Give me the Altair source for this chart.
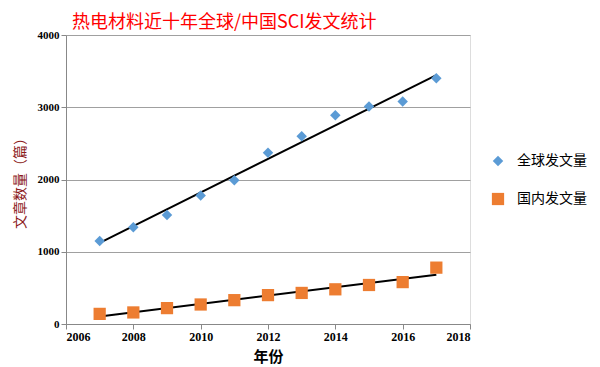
import altair as alt
import pandas as pd

years = [2007, 2008, 2009, 2010, 2011, 2012, 2013, 2014, 2015, 2016, 2017]
global_counts = [1150, 1340, 1510, 1780, 1990, 2370, 2600, 2890, 3010, 3080, 3400]
china_counts = [140, 160, 220, 270, 330, 400, 430, 480, 540, 580, 780]
series_names = ["全球发文量", "国内发文量"]
x_ticks = [2006, 2008, 2010, 2012, 2014, 2016, 2018]
y_ticks = [0, 500, 1000, 1500, 2000, 2500, 3000, 3500, 4000]

rows = []
for y, v in zip(years, global_counts):
    rows.append({"year": y, "value": v, "series": series_names[0]})
for y, v in zip(years, china_counts):
    rows.append({"year": y, "value": v, "series": series_names[1]})
df = pd.DataFrame(rows)

xenc = alt.X("year:Q", scale=alt.Scale(domain=[2006, 2018], nice=False),
             axis=alt.Axis(values=x_ticks, format="d", title="年份", grid=False,
                           labelFont="Liberation Serif", labelFontWeight="bold", labelFontSize=12,
                           labelColor="black", titleFont="Noto Sans CJK SC", titleFontSize=15,
                           titleFontWeight="bold", titleColor="black", titlePadding=7,
                           domainColor="#888888", tickColor="#888888", tickSize=5))
yenc = alt.Y("value:Q", scale=alt.Scale(domain=[0, 4000], nice=False),
             axis=alt.Axis(values=y_ticks, format="d", title="文章数量（篇）", gridColor="#a0a0a0",
                           labelFont="Liberation Serif", labelFontWeight="bold", labelFontSize=11,
                           labelColor="black", titleFont="Noto Sans CJK SC", titleFontSize=14,
                           titleFontWeight="normal", titleColor="#8B1A1A", titlePadding=10,
                           domainColor="#888888", tickColor="#888888", tickSize=5))

points = alt.Chart(df).mark_point(filled=True, opacity=1).encode(
    x=xenc,
    y=yenc,
    color=alt.Color("series:N", scale=alt.Scale(domain=series_names, range=["#5B9BD5", "#ED7D31"]),
                    legend=alt.Legend(title=None, orient="none", legendX=425, legendY=119,
                                      labelFont="Noto Sans CJK SC", labelFontSize=14, labelColor="black",
                                      symbolSize=70, rowPadding=24, labelOffset=12)),
    shape=alt.Shape("series:N", scale=alt.Scale(domain=series_names, range=["diamond", "square"]),
                    legend=None),
    size=alt.Size("series:N", scale=alt.Scale(domain=series_names, range=[110, 150]), legend=None),
)

trend = alt.Chart(df).transform_regression(
    "year", "value", groupby=["series"]
).mark_line(color="black", strokeWidth=2).encode(
    x="year:Q", y="value:Q", detail="series:N"
)

chart = alt.layer(trend, points).properties(
    width=404, height=289,
    autosize=alt.AutoSizeParams(type="none"),
    padding={"left": 58, "top": 27, "right": 122, "bottom": 43},
    title=alt.TitleParams("热电材料近十年全球/中国SCI发文统计", font="Noto Sans CJK SC", fontSize=18,
                          fontWeight="normal", color="#FF0000", anchor="start", frame="group",
                          dx=6, offset=-3),
).configure_view(stroke=None).configure(background="white")

chart.save("out.html", embed_options={"renderer": "svg", "actions": False})
